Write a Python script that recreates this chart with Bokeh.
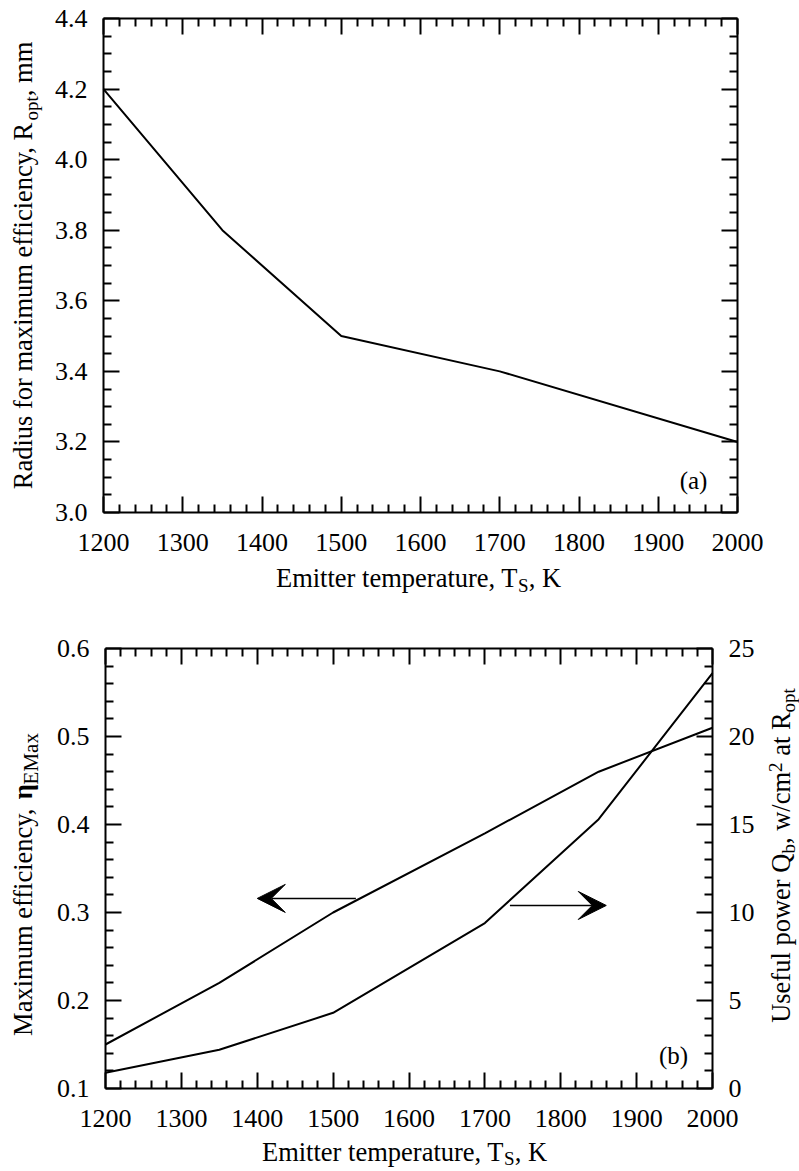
import math
from bokeh.plotting import figure
from bokeh.layouts import column
from bokeh.models import (Range1d, LinearAxis, FixedTicker, PrintfTickFormatter,
                          Label, Arrow, VeeHead)
from bokeh.embed import file_html
from bokeh.resources import INLINE

# ---------------- data ----------------
T_a = [1200, 1350, 1500, 1700, 2000]
R_opt = [4.2, 3.8, 3.5, 3.4, 3.2]

T_b = [1200, 1350, 1500, 1700, 1850, 2000]
eta_max = [0.15, 0.22, 0.30, 0.39, 0.46, 0.51]
Q_b = [0.9, 2.2, 4.3, 9.4, 15.3, 23.6]

x_ticks = [1200, 1300, 1400, 1500, 1600, 1700, 1800, 1900, 2000]
ya_ticks = [3.0, 3.2, 3.4, 3.6, 3.8, 4.0, 4.2, 4.4]
yb_ticks = [0.1, 0.2, 0.3, 0.4, 0.5, 0.6]
yr_ticks = [0, 5, 10, 15, 20, 25]

# arrow annotations (data coords): [x_start, x_end, y]
arrow_left = [1530, 1400, 0.316]
arrow_right = [1733, 1860, 0.308]

FONT = "Liberation Serif"
FS = 26      # tick labels
FT = 26.5    # axis titles
SUB = 19

# Times metrics (1/1000 em)
W = {' ': 250, ',': 250, '.': 250, '/': 278, '(': 333, ')': 333,
     'A': 722, 'E': 611, 'K': 722, 'M': 889, 'Q': 722, 'R': 667, 'S': 556, 'T': 611, 'U': 722,
     'a': 444, 'b': 500, 'c': 444, 'd': 500, 'e': 444, 'f': 333, 'i': 278, 'l': 278, 'm': 778,
     'n': 500, 'o': 500, 'p': 500, 'r': 333, 's': 389, 't': 278, 'u': 500, 'w': 722, 'x': 500,
     'y': 500, 'η': 560}
for d in "0123456789":
    W[d] = 500


def tw(s, size):
    return sum(W.get(c, 500) for c in s) * size / 1000.0


def add_title(p, segs, cx, cy, vertical):
    """segs: (text, size, baseline_raise, style); cx, cy = wanted baseline centre,
    screen units (y up from bottom)."""
    total = sum(tw(t, sz) for t, sz, sh, st in segs)
    pos = -total / 2.0
    for t, sz, sh, st in segs:
        lead = len(t) - len(t.lstrip())
        p0 = pos + tw(t[:lead], sz)
        txt = t.strip()
        corr = 0.35 * sz  # renderer puts the baseline this much below the anchor
        if vertical:
            x, y, ang = cx - sh - corr, cy + p0, math.pi / 2
        else:
            x, y, ang = cx + p0, cy + sh + corr, 0
        p.add_layout(Label(x=x, y=y, x_units="screen", y_units="screen", text=txt,
                           text_font=FONT, text_font_size=f"{sz}px", text_font_style=st,
                           text_color="black", angle=ang, text_align="left",
                           text_baseline="alphabetic"))
        pos += tw(t, sz)


def minor_of(ticks, n):
    out = []
    for a, b in zip(ticks[:-1], ticks[1:]):
        for k in range(1, n):
            out.append(round(a + (b - a) * k / n, 6))
    return out


def style_axis(ax, labels=True, standoff=14):
    ax.axis_line_color = "black"
    ax.axis_line_width = 2
    ax.major_tick_in = 16
    ax.major_tick_out = 0
    ax.minor_tick_in = 8
    ax.minor_tick_out = 0
    ax.major_tick_line_color = "black"
    ax.major_tick_line_width = 2
    ax.minor_tick_line_color = "black"
    ax.minor_tick_line_width = 2
    ax.major_label_text_font = FONT
    ax.major_label_text_font_size = f"{FS}px"
    ax.major_label_standoff = standoff
    ax.major_label_text_color = "black" if labels else None


def span_range(v0, v1, p0, p1, total):
    """Range so that value v0 sits at pixel p0 and v1 at pixel p1 of a canvas of size total."""
    k = (v1 - v0) / (p1 - p0)
    return Range1d(v0 - p0 * k, v1 + (total - p1) * k)


def make_fig(w, h, xr, yr):
    p = figure(width=w, height=h, output_backend="svg", toolbar_location=None,
               x_range=xr, y_range=yr, x_axis_location=None, y_axis_location=None,
               min_border=0, min_border_left=0, min_border_right=0,
               min_border_top=0, min_border_bottom=0)
    p.grid.visible = False
    p.outline_line_color = None
    p.background_fill_color = "white"
    p.border_fill_color = "white"
    return p


xticker = FixedTicker(ticks=x_ticks, minor_ticks=minor_of(x_ticks, 5))

# ---------------- panel (a) ----------------
WA, HA = 799, 620
BOX_A = dict(left=103, right=737, top=18, bottom=512)
pa = make_fig(WA, HA,
              span_range(x_ticks[0], x_ticks[-1], BOX_A["left"], BOX_A["right"], WA),
              span_range(ya_ticks[0], ya_ticks[-1], HA - BOX_A["bottom"], HA - BOX_A["top"], HA))

yat = FixedTicker(ticks=ya_ticks, minor_ticks=minor_of(ya_ticks, 4))
xb = (x_ticks[0], x_ticks[-1])
yb_a = (ya_ticks[0], ya_ticks[-1])

a_bottom = LinearAxis(ticker=xticker, fixed_location=ya_ticks[0], bounds=xb)
style_axis(a_bottom, True, 21)
pa.add_layout(a_bottom, "below")
a_top = LinearAxis(ticker=xticker, fixed_location=ya_ticks[-1], bounds=xb)
style_axis(a_top, False)
pa.add_layout(a_top, "above")
a_left = LinearAxis(ticker=yat, fixed_location=x_ticks[0], bounds=yb_a,
                    formatter=PrintfTickFormatter(format="%.1f"))
style_axis(a_left, True, 16)
pa.add_layout(a_left, "left")
a_right = LinearAxis(ticker=yat, fixed_location=x_ticks[-1], bounds=yb_a)
style_axis(a_right, False)
pa.add_layout(a_right, "right")

pa.line(T_a, R_opt, line_color="black", line_width=2)

add_title(pa, [("Emitter temperature, T", FT, 0, "normal"), ("S", SUB, -5, "normal"),
               (", K", FT, 0, "normal")], 418, HA - 587, False)
add_title(pa, [("Radius for maximum efficiency, R", FT, 0, "normal"), ("opt", SUB, -6, "normal"),
               (", mm", FT, 0, "normal")], 32, HA - 265, True)
pa.add_layout(Label(x=693, y=HA - 480, x_units="screen", y_units="screen", text="(a)",
                    text_font=FONT, text_font_size="25px", text_color="black",
                    text_align="center", text_baseline="middle"))

# ---------------- panel (b) ----------------
WB, HB = 799, 551
BOX_B = dict(left=105, right=712, top=28, bottom=468)
pb = make_fig(WB, HB,
              span_range(x_ticks[0], x_ticks[-1], BOX_B["left"], BOX_B["right"], WB),
              span_range(yb_ticks[0], yb_ticks[-1], HB - BOX_B["bottom"], HB - BOX_B["top"], HB))
pb.extra_y_ranges = {"power": span_range(yr_ticks[0], yr_ticks[-1],
                                         HB - BOX_B["bottom"], HB - BOX_B["top"], HB)}

ybt = FixedTicker(ticks=yb_ticks, minor_ticks=minor_of(yb_ticks, 5))
yrt = FixedTicker(ticks=yr_ticks, minor_ticks=minor_of(yr_ticks, 5))
yb_b = (yb_ticks[0], yb_ticks[-1])
yb_r = (yr_ticks[0], yr_ticks[-1])

b_bottom = LinearAxis(ticker=xticker, fixed_location=yb_ticks[0], bounds=xb)
style_axis(b_bottom, True, 21)
pb.add_layout(b_bottom, "below")
b_top = LinearAxis(ticker=xticker, fixed_location=yb_ticks[-1], bounds=xb)
style_axis(b_top, False)
pb.add_layout(b_top, "above")
b_left = LinearAxis(ticker=ybt, fixed_location=x_ticks[0], bounds=yb_b,
                    formatter=PrintfTickFormatter(format="%.1f"))
style_axis(b_left, True, 16)
pb.add_layout(b_left, "left")
b_right = LinearAxis(ticker=yrt, y_range_name="power", fixed_location=x_ticks[-1], bounds=yb_r)
style_axis(b_right, True, 16)
pb.add_layout(b_right, "right")

pb.line(T_b, eta_max, line_color="black", line_width=2)
pb.line(T_b, Q_b, line_color="black", line_width=2, y_range_name="power")

for arr in (arrow_left, arrow_right):
    pb.add_layout(Arrow(end=VeeHead(size=28, fill_color="black", line_color="black"),
                        x_start=arr[0], x_end=arr[1], y_start=arr[2], y_end=arr[2],
                        line_color="black", line_width=1.5))

add_title(pb, [("Emitter temperature, T", FT, 0, "normal"), ("S", SUB, -4, "normal"),
               (", K", FT, 0, "normal")], 404, HB - 541, False)
add_title(pb, [("Maximum efficiency,", FT, 0, "normal"), (" η", 27, 0, "bold"),
               ("EMax", 21, -6, "normal")], 32, HB - 264, True)
add_title(pb, [("Useful power Q", FT, 0, "normal"), ("b", SUB, -5, "normal"),
               (", w/cm", FT, 0, "normal"), ("2", SUB, 8, "normal"),
               (" at R", FT, 0, "normal"), ("opt", SUB, -5, "normal")], 790, HB - 235, True)
pb.add_layout(Label(x=673, y=HB - 435, x_units="screen", y_units="screen", text="(b)",
                    text_font=FONT, text_font_size="25px", text_color="black",
                    text_align="center", text_baseline="middle"))

layout = column(pa, pb)
open("out.html", "w").write(file_html(layout, INLINE))
